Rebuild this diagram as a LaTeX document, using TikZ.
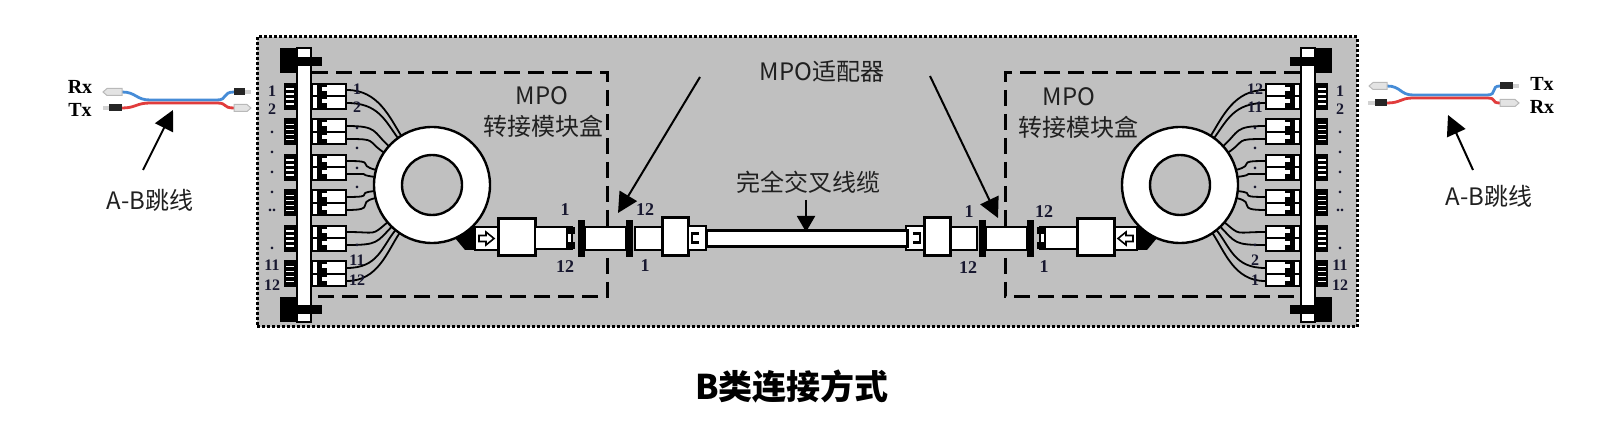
\documentclass[tikz,border=0pt]{standalone}
\usepackage{fontspec}
\setmainfont{Liberation Serif}
\newfontfamily\cjk{Noto Sans CJK SC}
\usepackage{tikz}
\usetikzlibrary{arrows.meta}
\usetikzlibrary{positioning}

\definecolor{panelgrey}{RGB}{192,192,192}
\definecolor{labelgrey}{RGB}{32,32,32}
\definecolor{numblue}{RGB}{24,24,48}
\definecolor{fiberblue}{RGB}{70,140,215}
\definecolor{fiberred}{RGB}{225,60,60}

\tikzset{
  labeltext/.style={font=\cjk\fontsize{12}{12}\selectfont, text=labelgrey, inner sep=0pt},
  portnum/.style={font=\bfseries\fontsize{8}{8}\selectfont, text=numblue, inner sep=0pt},
  plugnum/.style={font=\bfseries\fontsize{9}{9}\selectfont, text=numblue, inner sep=0pt},
  partbox/.style={draw=black, fill=white, line width=1pt},
  pointarrow/.style={line width=1pt, -{Triangle[length=10pt,width=10pt]}},
  mpobox/.style={line width=1.5pt, dash pattern=on 8pt off 4pt},
  lightplug/.style={fill=gray!22, draw=gray!55, line width=0.5pt},
  darkplug/.style={fill=black!85},
}

% one half of the link: rack, cassette, ring and connectors up to the adapter
\newcommand{\mpohalf}{%
      \draw[fill=white, line width=1.2pt] (297,48) rectangle (311,322);
      \fill (280,48) rectangle (297,73);
      \fill (297,57) rectangle (322,66);
      \fill (280,297) rectangle (297,322);
      \fill (297,305) rectangle (322,314);

      \foreach \y in {83,118.5,154,189.5,225,260.5} {
        \fill (284,\y) rectangle (297,\y+27);
        \foreach \k in {6,11,16,21} \draw[white, line width=0.8pt] (286,\y+\k) -- (294,\y+\k);
        \fill (311,\y) rectangle (347,\y+27);
        \fill[white] (313,\y+2) rectangle (345,\y+12.5);
        \fill[white] (313,\y+14.5) rectangle (345,\y+25);
        \fill (317,\y+2) rectangle (327,\y+12.5);
        \fill (317,\y+14.5) rectangle (327,\y+25);
        \fill[white] (322,\y+4) rectangle (327,\y+8);
        \fill[white] (322,\y+16.5) rectangle (327,\y+20.5);
      }

      \foreach \fy/\fa in {90/122, 103/126, 126/138, 139/146, 161/165, 174/172,
                           197/186, 210/193, 232/220, 245/226, 268/231, 281/236}
        \draw[line width=0.9pt] (347,\fy) .. controls (378,\fy) and ({432+80*cos(\fa)},{185-80*sin(\fa)}) .. ({432+58*cos(\fa)},{185-58*sin(\fa)});

      \fill (445,226) -- (476,227) -- (476,250) -- (465,250) -- cycle;
      \draw[fill=white, line width=1.2pt] (432,185) circle[radius=58];
      \draw[fill=panelgrey, line width=1.2pt] (432,185) circle[radius=30];

      \draw[mpobox] (312,73) -- (607,73) -- (607,297) -- (312,297);

      \draw[partbox] (475,227) rectangle (498,250);
      \draw[fill=white, line width=0.8pt] (479,235.5) -- (486,235.5) -- (486,232) -- (494,238.5) -- (486,245) -- (486,241.5) -- (479,241.5) -- cycle;
      \draw[partbox, line width=1.5pt] (498,219) rectangle (535,256);
      \draw[partbox] (535,227) rectangle (572,249);
      \fill (566,227) rectangle (575,234);
      \fill (566,242) rectangle (575,249);
      \fill (566,227) rectangle (568,249);

      \fill (578,220) rectangle (585,257);
      \draw[partbox] (585,227) rectangle (626,250);
      \fill (626,220) rectangle (633,257);

      \draw[partbox] (635,227) rectangle (662,250);
      \draw[partbox, line width=1.5pt] (662,218) rectangle (688,256);
      \draw[partbox] (688,226) rectangle (706,250);
      \fill (691,232) rectangle (699,244);
      \fill[white] (693,235) rectangle (699,241);
}

\begin{document}
\begin{tikzpicture}[x=0.5pt, y=-0.5pt]
      \useasboundingbox (0,0) rectangle (1600,432);

      \draw[fill=panelgrey, line width=1.5pt, densely dotted] (257,37) rectangle (1357,327);

      \mpohalf
      \begin{scope}[xshift=806pt, xscale=-1]
        \mpohalf
      \end{scope}

      % trunk cable between the two adapters
      \draw[fill=white, line width=1.5pt] (706,231) rectangle (907,247);

      % port numbers on the racks and fibres
      \foreach \n/\py in {1/91, 2/109, ./132.5, ./152.5, ./172, ./192, ../210, ./248, 11/265, 12/285} {
        \node[portnum] (rackL\py) at (272,\py) {\n};
        \node[portnum] (rackR\py) at (1340,\py) {\n};
      }
      \foreach \n/\m/\py in {1/12/89, 2/11/107, ././128, ././148, ././168, ././187, ././245, 11/2/260, 12/1/280} {
        \node[portnum] (fibL\py) at (357,\py) {\n};
        \node[portnum] (fibR\py) at (1255,\py) {\m};
      }

      \node[plugnum] (pinLa) at (565,210) {1};
      \node[plugnum] (pinLb) at (565,267) {12};
      \node[plugnum] (pinLc) at (645,210) {12};
      \node[plugnum] (pinLd) at (645,266) {1};
      \node[plugnum] (pinRa) at (969,212) {1};
      \node[plugnum] (pinRb) at (968,268) {12};
      \node[plugnum] (pinRc) at (1044,212) {12};
      \node[plugnum] (pinRd) at (1044,267) {1};

      % labels
      \node[labeltext] (mpoL) at (542,96) {MPO};
      \node[labeltext] (cassetteL) at (543,126) {转接模块盒};
      \node[labeltext] (mpoR) at (1069,97) {MPO};
      \node[labeltext] (cassetteR) at (1078,127) {转接模块盒};
      \node[labeltext] (adapter) at (822,71) {MPO适配器};
      \node[labeltext] (trunk) at (808,182) {完全交叉线缆};
      \node[labeltext] (jumperL) at (150,200) {A-B跳线};
      \node[labeltext] (jumperR) at (1489,196) {A-B跳线};
      \node[font=\cjk\bfseries\fontsize{17}{17}\selectfont, inner sep=0pt] (title) at (792,387) {B类连接方式};

      \coordinate (adapterLs) at (700,77);
      \coordinate (adapterL) at (618,213);
      \coordinate (adapterRs) at (930,76);
      \coordinate (adapterR) at (998,218);
      \coordinate (trunkS) at (806,200);
      \coordinate (trunkE) at (806,232);
      \draw[pointarrow] (adapterLs) -- (adapterL);
      \draw[pointarrow] (adapterRs) -- (adapterR);
      \draw[line width=1pt, -{Triangle[length=8pt,width=9pt]}] (trunkS) -- (trunkE);

      % A-B jumpers
      \draw[fiberblue, line width=1.4pt] (122,92) .. controls (136,92) and (136,100) .. (150,100) -- (217,100) .. controls (228,100) and (222,92) .. (234,92);
      \draw[fiberred, line width=1.4pt] (122,108) .. controls (136,108) and (136,103) .. (150,103) -- (217,103) .. controls (228,103) and (222,108) .. (234,108);
      \draw[lightplug] (103,92) -- (107,88.5) -- (122,88.5) -- (122,95.5) -- (107,95.5) -- cycle;
      \fill[gray!35] (103,106) rectangle (109,110);
      \fill[darkplug] (109,104.5) rectangle (122,111.5);
      \fill[darkplug] (234,88.5) rectangle (245,95.5);
      \fill[gray!35] (245,90) rectangle (251,94);
      \draw[lightplug] (234,104.5) -- (247,104.5) -- (251,108) -- (247,111.5) -- (234,111.5) -- cycle;

      \draw[fiberblue, line width=1.4pt] (1387,86) .. controls (1401,86) and (1400,95) .. (1413,95) -- (1487,95) .. controls (1498,95) and (1490,86) .. (1500,86);
      \draw[fiberred, line width=1.4pt] (1387,103) .. controls (1401,103) and (1400,98) .. (1413,98) -- (1487,98) .. controls (1498,98) and (1490,103) .. (1500,103);
      \draw[lightplug] (1369,86) -- (1373,82.5) -- (1387,82.5) -- (1387,89.5) -- (1373,89.5) -- cycle;
      \fill[gray!35] (1368,101) rectangle (1375,105);
      \fill[darkplug] (1375,99.5) rectangle (1387,106.5);
      \fill[darkplug] (1500,82.5) rectangle (1513,89.5);
      \fill[gray!35] (1513,84) rectangle (1519,88);
      \draw[lightplug] (1500,99.5) -- (1515,99.5) -- (1519,103) -- (1515,106.5) -- (1500,106.5) -- cycle;

      \node[font=\bfseries\fontsize{10}{10}\selectfont, inner sep=0pt] (rxL) at (80,87) {Rx};
      \node[font=\bfseries\fontsize{10}{10}\selectfont, inner sep=0pt] (txL) at (80,110) {Tx};
      \node[font=\bfseries\fontsize{10}{10}\selectfont, inner sep=0pt] (txR) at (1542,84) {Tx};
      \node[font=\bfseries\fontsize{10}{10}\selectfont, inner sep=0pt] (rxR) at (1542,107) {Rx};

      \coordinate (jumperLs) at (143,170);
      \coordinate (jumperLt) at (173,110);
      \coordinate (jumperRs) at (1473,170);
      \coordinate (jumperRt) at (1448,115);
      \draw[pointarrow] (jumperLs) -- (jumperLt);
      \draw[pointarrow] (jumperRs) -- (jumperRt);
\end{tikzpicture}
\end{document}
